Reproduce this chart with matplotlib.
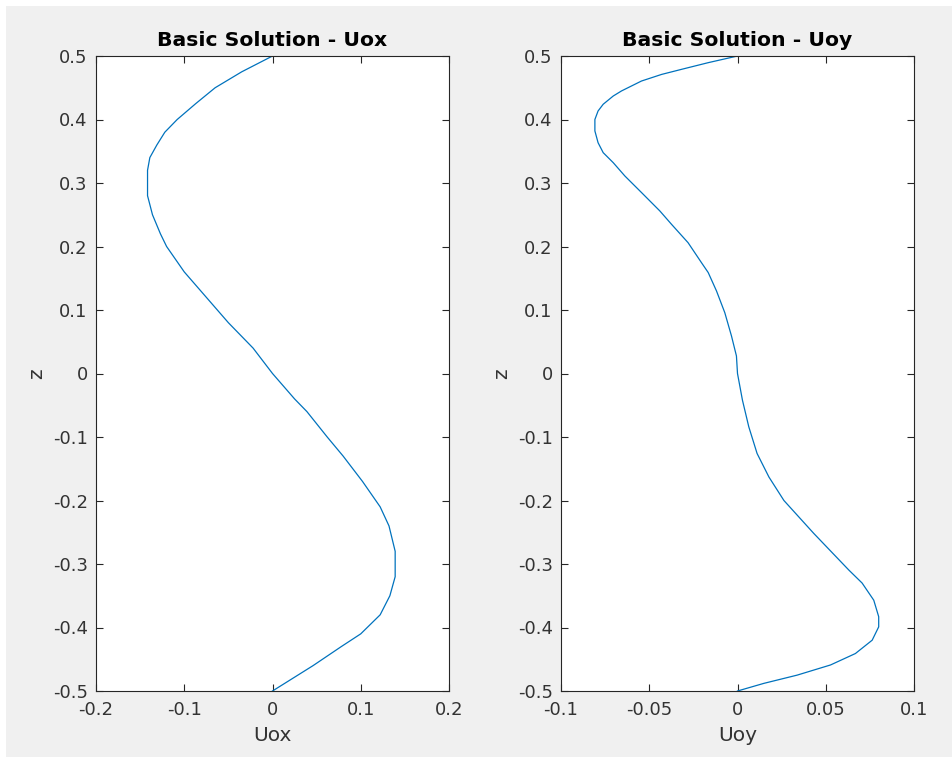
import matplotlib
matplotlib.use("Agg")
import matplotlib.pyplot as plt
from matplotlib.patches import Rectangle

# ---- data ----
z_uox = [0.50, 0.475, 0.45, 0.425, 0.40, 0.38, 0.36, 0.34, 0.32, 0.28, 0.25, 0.22,
         0.20, 0.16, 0.12, 0.08, 0.04, 0.00, -0.04, -0.06, -0.10, -0.13, -0.17,
         -0.21, -0.24, -0.28, -0.32, -0.35, -0.38, -0.41, -0.43, -0.46, -0.50]
uox = [0.000, -0.035, -0.065, -0.087, -0.108, -0.122, -0.131, -0.139, -0.1416,
       -0.1416, -0.136, -0.127, -0.120, -0.100, -0.075, -0.050, -0.022, 0.000,
       0.025, 0.039, 0.062, 0.080, 0.102, 0.122, 0.132, 0.139, 0.139, 0.133,
       0.122, 0.100, 0.078, 0.046, 0.000]

z_uoy = [0.50, 0.4895, 0.479, 0.471, 0.4606, 0.445, 0.437, 0.424, 0.4134, 0.40,
         0.382, 0.3635, 0.3478, 0.332, 0.311, 0.285, 0.256, 0.235, 0.206, 0.1745,
         0.159, 0.130, 0.0958, 0.059, 0.0276, 0.0, -0.042, -0.084, -0.126, -0.163,
         -0.20, -0.2518, -0.3096, -0.330, -0.357, -0.383, -0.399, -0.420, -0.441,
         -0.459, -0.475, -0.488, -0.50]
uoy = [0.0, -0.0166, -0.0317, -0.043, -0.0544, -0.0657, -0.0704, -0.0761, -0.079,
       -0.0808, -0.0808, -0.079, -0.0761, -0.0704, -0.0638, -0.0544, -0.044,
       -0.0374, -0.028, -0.0204, -0.0166, -0.0119, -0.0072, -0.0034, -0.0006, 0.0,
       0.0028, 0.0064, 0.0111, 0.0178, 0.0263, 0.0432, 0.0631, 0.0706, 0.0772,
       0.080, 0.080, 0.0763, 0.0668, 0.0527, 0.0338, 0.0149, 0.0]

titles = ["Basic Solution - Uox", "Basic Solution - Uoy"]
xlabels = ["Uox", "Uoy"]
ylabel = "z"
xticks_l = [-0.2, -0.1, 0, 0.1, 0.2]
xticks_r = [-0.1, -0.05, 0, 0.05, 0.1]
yticks = [-0.5, -0.4, -0.3, -0.2, -0.1, 0, 0.1, 0.2, 0.3, 0.4, 0.5]

def fmt(v):
    return "%g" % v

W, H = 952, 758
fig = plt.figure(figsize=(W / 100, H / 100), dpi=100, facecolor="white")
fig.patches.append(Rectangle((6 / W, 1 / H), (W - 6) / W, (H - 7) / H,
                             transform=fig.transFigure, facecolor="#f0f0f0",
                             edgecolor="none", zorder=-10))

axc = "#262626"
txtc = "#333333"
line_color = "#0072BD"
positions = [(96, 56), (561, 56)]
aw, ah = 353, 635
data = [(uox, z_uox, xticks_l, (-0.2, 0.2)), (uoy, z_uoy, xticks_r, (-0.1, 0.1))]

for i, ((px, py), (xv, zv, xt, xl)) in enumerate(zip(positions, data)):
    ax = fig.add_axes([px / W, (H - py - ah) / H, aw / W, ah / H])
    ax.plot(xv, zv, color=line_color, lw=0.9)
    ax.set_xlim(*xl)
    ax.set_ylim(-0.5, 0.5)
    ax.set_xticks(xt)
    ax.set_xticklabels([fmt(v) for v in xt])
    ax.set_yticks(yticks)
    ax.set_yticklabels([fmt(v) for v in yticks])
    ax.tick_params(direction="in", top=True, right=True, length=5, width=0.8,
                   colors=axc, labelcolor=txtc, labelsize=13)
    ax.tick_params(axis="x", pad=7)
    ax.tick_params(axis="y", pad=6)
    for s in ax.spines.values():
        s.set_color(axc)
        s.set_linewidth(0.8)
    ax.set_title(titles[i], fontsize=14.7, fontweight="bold", color="black", pad=7)
    ax.set_xlabel(xlabels[i], fontsize=14.5, color=txtc, labelpad=5)
    ax.set_ylabel(ylabel, fontsize=14.5, color=txtc, labelpad=5)

fig.savefig("out.png", dpi=100, facecolor="white")
